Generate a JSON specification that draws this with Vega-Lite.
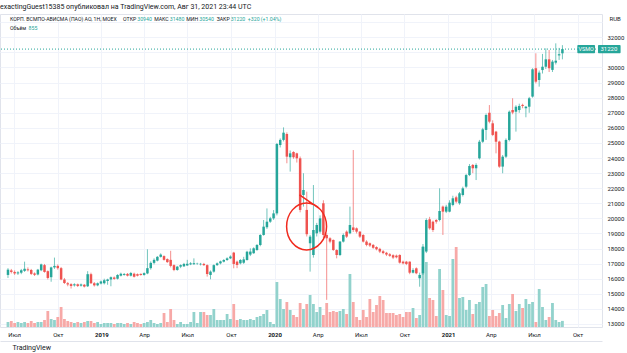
{
"$schema": "https://vega.github.io/schema/vega-lite/v6.json",
"width": 602, "height": 313,
"autosize": {"type": "none"},
"padding": {"left": 0, "top": 14, "right": 25, "bottom": 26},
"background": "#ffffff",
"title": {"text": "exactingGuest15385 опубликовал на TradingView.com, Авг 31, 2021 23:44 UTC", "anchor": "start", "frame": "group", "fontSize": 7, "fontWeight": "normal", "color": "#131722", "font": "Roboto", "offset": 4},
"config": {"view": {"stroke": "#e0e3eb", "strokeWidth": 1}, "font": "Roboto",
  "axis": {"gridColor": "#f0f3fa", "gridWidth": 1, "domain": false, "ticks": false, "labelColor": "#131722", "labelFont": "Roboto", "titleFont": "Roboto", "labelOverlap": false}},
"datasets": {"w": [
{"d":"2018-06-18","o":16250,"h":16700,"l":16050,"c":16600,"v":700},
{"d":"2018-06-25","o":16550,"h":16650,"l":16350,"c":16450,"v":840},
{"d":"2018-07-02","o":16450,"h":16550,"l":16250,"c":16350,"v":560},
{"d":"2018-07-09","o":16350,"h":16500,"l":16250,"c":16420,"v":700},
{"d":"2018-07-16","o":16400,"h":16650,"l":16300,"c":16560,"v":560},
{"d":"2018-07-23","o":16520,"h":17130,"l":16450,"c":16660,"v":700},
{"d":"2018-07-30","o":16620,"h":16750,"l":16480,"c":16560,"v":560},
{"d":"2018-08-06","o":16580,"h":16650,"l":16250,"c":16320,"v":840},
{"d":"2018-08-13","o":16350,"h":16420,"l":16180,"c":16260,"v":560},
{"d":"2018-08-20","o":16280,"h":16650,"l":16220,"c":16600,"v":700},
{"d":"2018-08-27","o":16560,"h":17000,"l":16500,"c":16950,"v":700},
{"d":"2018-09-03","o":16900,"h":16980,"l":16400,"c":16450,"v":980},
{"d":"2018-09-10","o":16500,"h":16550,"l":15950,"c":16050,"v":2240},
{"d":"2018-09-17","o":16100,"h":16800,"l":15800,"c":16750,"v":1120},
{"d":"2018-09-24","o":16750,"h":17400,"l":16650,"c":16850,"v":980},
{"d":"2018-10-01","o":16850,"h":16950,"l":16600,"c":16700,"v":1400},
{"d":"2018-10-08","o":16700,"h":16780,"l":15900,"c":15950,"v":2800},
{"d":"2018-10-15","o":15950,"h":16050,"l":15650,"c":15720,"v":1120},
{"d":"2018-10-22","o":15700,"h":15780,"l":15500,"c":15620,"v":840},
{"d":"2018-10-29","o":15640,"h":15700,"l":15350,"c":15520,"v":700},
{"d":"2018-11-05","o":15560,"h":15700,"l":15480,"c":15630,"v":560},
{"d":"2018-11-12","o":15630,"h":15680,"l":15450,"c":15520,"v":700},
{"d":"2018-11-19","o":15540,"h":15680,"l":15480,"c":15620,"v":560},
{"d":"2018-11-26","o":15600,"h":15650,"l":15420,"c":15480,"v":700},
{"d":"2018-12-03","o":15500,"h":16500,"l":15450,"c":16300,"v":840},
{"d":"2018-12-10","o":16300,"h":16400,"l":15650,"c":15700,"v":840},
{"d":"2018-12-17","o":15700,"h":15780,"l":15480,"c":15560,"v":560},
{"d":"2018-12-24","o":15560,"h":15750,"l":15500,"c":15700,"v":700},
{"d":"2018-12-31","o":15680,"h":15880,"l":15620,"c":15820,"v":420},
{"d":"2019-01-07","o":15700,"h":16000,"l":15620,"c":15900,"v":560},
{"d":"2019-01-14","o":15850,"h":16000,"l":15600,"c":15950,"v":560},
{"d":"2019-01-21","o":15950,"h":16150,"l":15500,"c":16100,"v":560},
{"d":"2019-01-28","o":16080,"h":16150,"l":15930,"c":15990,"v":420},
{"d":"2019-02-04","o":16000,"h":16300,"l":15950,"c":16250,"v":560},
{"d":"2019-02-11","o":16200,"h":16400,"l":16150,"c":16330,"v":560},
{"d":"2019-02-18","o":16250,"h":16380,"l":16200,"c":16310,"v":420},
{"d":"2019-02-25","o":16320,"h":16380,"l":16150,"c":16200,"v":560},
{"d":"2019-03-04","o":16200,"h":16450,"l":16150,"c":16380,"v":420},
{"d":"2019-03-11","o":16330,"h":16400,"l":16080,"c":16130,"v":700},
{"d":"2019-03-18","o":16300,"h":16350,"l":16150,"c":16200,"v":560},
{"d":"2019-03-25","o":16320,"h":16350,"l":16200,"c":16250,"v":420},
{"d":"2019-04-01","o":16250,"h":16420,"l":16200,"c":16370,"v":560},
{"d":"2019-04-08","o":16350,"h":17950,"l":16300,"c":16700,"v":700},
{"d":"2019-04-15","o":16700,"h":17150,"l":16600,"c":17050,"v":980},
{"d":"2019-04-22","o":17050,"h":17350,"l":16950,"c":17250,"v":560},
{"d":"2019-04-29","o":17200,"h":17500,"l":17150,"c":17450,"v":420},
{"d":"2019-05-06","o":17450,"h":17680,"l":17400,"c":17600,"v":560},
{"d":"2019-05-13","o":17500,"h":17550,"l":17200,"c":17250,"v":1960},
{"d":"2019-05-20","o":17300,"h":17350,"l":17050,"c":17100,"v":700},
{"d":"2019-05-27","o":17250,"h":17850,"l":16750,"c":16850,"v":2520},
{"d":"2019-06-03","o":16900,"h":16950,"l":16500,"c":16580,"v":980},
{"d":"2019-06-10","o":16580,"h":16850,"l":16530,"c":16800,"v":420},
{"d":"2019-06-17","o":16800,"h":16950,"l":16700,"c":16900,"v":700},
{"d":"2019-06-24","o":16820,"h":17050,"l":16780,"c":16980,"v":420},
{"d":"2019-07-01","o":16880,"h":17250,"l":16850,"c":16990,"v":420},
{"d":"2019-07-08","o":16950,"h":17100,"l":16900,"c":17020,"v":700},
{"d":"2019-07-15","o":16960,"h":17350,"l":16920,"c":17030,"v":2100},
{"d":"2019-07-22","o":16980,"h":17060,"l":16920,"c":17000,"v":560},
{"d":"2019-07-29","o":16950,"h":17050,"l":16880,"c":16990,"v":2100},
{"d":"2019-08-05","o":16980,"h":17050,"l":16850,"c":16900,"v":2100},
{"d":"2019-08-12","o":16900,"h":16950,"l":16140,"c":16310,"v":1680},
{"d":"2019-08-19","o":16250,"h":16550,"l":15960,"c":16470,"v":1680},
{"d":"2019-08-26","o":16470,"h":16950,"l":16400,"c":16900,"v":2520},
{"d":"2019-09-02","o":16900,"h":17080,"l":16850,"c":17020,"v":980},
{"d":"2019-09-09","o":17020,"h":17200,"l":16950,"c":17150,"v":980},
{"d":"2019-09-16","o":17130,"h":17300,"l":17080,"c":17240,"v":980},
{"d":"2019-09-23","o":17240,"h":17420,"l":17180,"c":17350,"v":1820},
{"d":"2019-09-30","o":17350,"h":17550,"l":17300,"c":17470,"v":1120},
{"d":"2019-10-07","o":17730,"h":17780,"l":16690,"c":16980,"v":3220},
{"d":"2019-10-14","o":17130,"h":17200,"l":16700,"c":16910,"v":980},
{"d":"2019-10-21","o":17020,"h":17300,"l":16950,"c":17240,"v":1120},
{"d":"2019-10-28","o":17060,"h":17450,"l":16980,"c":17280,"v":980},
{"d":"2019-11-04","o":17240,"h":17850,"l":17200,"c":17790,"v":980},
{"d":"2019-11-11","o":17600,"h":18015,"l":17500,"c":17800,"v":1120},
{"d":"2019-11-18","o":17690,"h":18080,"l":17650,"c":18015,"v":980},
{"d":"2019-11-25","o":17900,"h":18300,"l":17850,"c":18235,"v":1400},
{"d":"2019-12-02","o":18235,"h":18950,"l":18150,"c":18900,"v":1540},
{"d":"2019-12-09","o":18900,"h":19890,"l":18850,"c":19450,"v":1820},
{"d":"2019-12-16","o":19410,"h":20660,"l":19300,"c":19780,"v":2380},
{"d":"2019-12-23","o":19780,"h":20100,"l":19700,"c":20000,"v":700},
{"d":"2019-12-30","o":20000,"h":20550,"l":19900,"c":20330,"v":420},
{"d":"2020-01-06","o":20330,"h":25000,"l":20200,"c":24930,"v":6300},
{"d":"2020-01-13","o":24860,"h":25300,"l":24700,"c":25200,"v":3920},
{"d":"2020-01-20","o":25200,"h":26030,"l":25100,"c":25680,"v":2520},
{"d":"2020-01-27","o":25590,"h":25700,"l":23650,"c":24090,"v":3500},
{"d":"2020-02-03","o":24050,"h":24500,"l":23100,"c":24310,"v":2380},
{"d":"2020-02-10","o":24400,"h":24450,"l":23950,"c":24050,"v":1680},
{"d":"2020-02-17","o":24310,"h":24350,"l":23700,"c":23980,"v":1400},
{"d":"2020-02-24","o":23980,"h":24100,"l":20400,"c":20560,"v":3360},
{"d":"2020-03-02","o":21550,"h":22990,"l":20780,"c":21880,"v":2520},
{"d":"2020-03-09","o":20560,"h":21770,"l":18800,"c":18950,"v":3220},
{"d":"2020-03-16","o":18350,"h":18900,"l":16470,"c":18790,"v":4480},
{"d":"2020-03-23","o":17570,"h":22210,"l":17400,"c":19230,"v":3220},
{"d":"2020-03-30","o":19010,"h":19700,"l":18800,"c":19560,"v":2100},
{"d":"2020-04-06","o":19120,"h":20200,"l":19000,"c":20000,"v":2800},
{"d":"2020-04-13","o":21000,"h":21200,"l":18700,"c":18900,"v":1680},
{"d":"2020-04-20","o":18900,"h":19000,"l":14600,"c":18680,"v":3360},
{"d":"2020-04-27","o":18680,"h":18750,"l":18350,"c":18460,"v":2100},
{"d":"2020-05-04","o":18570,"h":18600,"l":17850,"c":17900,"v":2240},
{"d":"2020-05-11","o":17900,"h":17950,"l":17350,"c":17570,"v":2100},
{"d":"2020-05-18","o":17570,"h":18500,"l":17500,"c":18460,"v":2240},
{"d":"2020-05-25","o":18460,"h":19000,"l":18400,"c":18900,"v":2520},
{"d":"2020-06-01","o":19120,"h":19200,"l":18700,"c":18790,"v":1820},
{"d":"2020-06-08","o":19010,"h":20780,"l":18950,"c":19560,"v":7420},
{"d":"2020-06-15","o":19400,"h":24530,"l":19100,"c":19230,"v":3500},
{"d":"2020-06-22","o":19340,"h":19400,"l":19000,"c":19120,"v":1400},
{"d":"2020-06-29","o":19120,"h":19150,"l":18700,"c":18790,"v":980},
{"d":"2020-07-06","o":18900,"h":18950,"l":18400,"c":18460,"v":2380},
{"d":"2020-07-13","o":18460,"h":18550,"l":18150,"c":18240,"v":1400},
{"d":"2020-07-20","o":18350,"h":18400,"l":18100,"c":18200,"v":3920},
{"d":"2020-07-27","o":18240,"h":18300,"l":17980,"c":18050,"v":2100},
{"d":"2020-08-03","o":18100,"h":18150,"l":17880,"c":17950,"v":3080},
{"d":"2020-08-10","o":17980,"h":18050,"l":17700,"c":17800,"v":4340},
{"d":"2020-08-17","o":17820,"h":17900,"l":17620,"c":17700,"v":3780},
{"d":"2020-08-24","o":17720,"h":17780,"l":17500,"c":17600,"v":1960},
{"d":"2020-08-31","o":17620,"h":17700,"l":17450,"c":17520,"v":1960},
{"d":"2020-09-07","o":17560,"h":17620,"l":17300,"c":17400,"v":1960},
{"d":"2020-09-14","o":17530,"h":17600,"l":17350,"c":17420,"v":1680},
{"d":"2020-09-21","o":17570,"h":17620,"l":17000,"c":17065,"v":1820},
{"d":"2020-09-28","o":17130,"h":17200,"l":16950,"c":17020,"v":1400},
{"d":"2020-10-05","o":17130,"h":17180,"l":16900,"c":16980,"v":2100},
{"d":"2020-10-12","o":17130,"h":17150,"l":16300,"c":16400,"v":2100},
{"d":"2020-10-19","o":16400,"h":16700,"l":16350,"c":16580,"v":2660},
{"d":"2020-10-26","o":16690,"h":16750,"l":16300,"c":16360,"v":1260},
{"d":"2020-11-02","o":16030,"h":16400,"l":15470,"c":16250,"v":1680},
{"d":"2020-11-09","o":16360,"h":18300,"l":16250,"c":18130,"v":11200},
{"d":"2020-11-16","o":17800,"h":20000,"l":17700,"c":19890,"v":9100},
{"d":"2020-11-23","o":19940,"h":20100,"l":19250,"c":19340,"v":4060},
{"d":"2020-11-30","o":19780,"h":19850,"l":19100,"c":19230,"v":3780},
{"d":"2020-12-07","o":19890,"h":19950,"l":19650,"c":19780,"v":1540},
{"d":"2020-12-14","o":19890,"h":21990,"l":19800,"c":20490,"v":8120},
{"d":"2020-12-21","o":20780,"h":20850,"l":18900,"c":20445,"v":5180},
{"d":"2020-12-28","o":20445,"h":20900,"l":20350,"c":20776,"v":1680},
{"d":"2021-01-04","o":20445,"h":21200,"l":20400,"c":21040,"v":1540},
{"d":"2021-01-11","o":20890,"h":21500,"l":20800,"c":21330,"v":9520},
{"d":"2021-01-18","o":21395,"h":21500,"l":21000,"c":21110,"v":11200},
{"d":"2021-01-25","o":21000,"h":21750,"l":20900,"c":21660,"v":4060},
{"d":"2021-02-01","o":21550,"h":22100,"l":21450,"c":21990,"v":4200},
{"d":"2021-02-08","o":22100,"h":22950,"l":22000,"c":22870,"v":2380},
{"d":"2021-02-15","o":22870,"h":23600,"l":22800,"c":23470,"v":3780},
{"d":"2021-02-22","o":23540,"h":23600,"l":23000,"c":23320,"v":1820},
{"d":"2021-03-01","o":23320,"h":23650,"l":22540,"c":23540,"v":3220},
{"d":"2021-03-08","o":23980,"h":25200,"l":23900,"c":25080,"v":3500},
{"d":"2021-03-15","o":25080,"h":26000,"l":25000,"c":25900,"v":5600},
{"d":"2021-03-22","o":25860,"h":26950,"l":25200,"c":26850,"v":6020},
{"d":"2021-03-29","o":27000,"h":27510,"l":26300,"c":26410,"v":1540},
{"d":"2021-04-05","o":26300,"h":26500,"l":25450,"c":25530,"v":2380},
{"d":"2021-04-12","o":25750,"h":25800,"l":24310,"c":25080,"v":1540},
{"d":"2021-04-19","o":25090,"h":25150,"l":23350,"c":23430,"v":1960},
{"d":"2021-04-26","o":23430,"h":24200,"l":22990,"c":24090,"v":3080},
{"d":"2021-05-03","o":24090,"h":25300,"l":24000,"c":25200,"v":1260},
{"d":"2021-05-10","o":25200,"h":27150,"l":25100,"c":27070,"v":3220},
{"d":"2021-05-17","o":27180,"h":27960,"l":26900,"c":27010,"v":4620},
{"d":"2021-05-24","o":27070,"h":27500,"l":25750,"c":27400,"v":2240},
{"d":"2021-05-31","o":27180,"h":27600,"l":27000,"c":27450,"v":3220},
{"d":"2021-06-07","o":27520,"h":27600,"l":27300,"c":27450,"v":2660},
{"d":"2021-06-14","o":27300,"h":27450,"l":26700,"c":27400,"v":3920},
{"d":"2021-06-21","o":27400,"h":28050,"l":27000,"c":27960,"v":3220},
{"d":"2021-06-28","o":28070,"h":29950,"l":28000,"c":29880,"v":3500},
{"d":"2021-07-05","o":29950,"h":30940,"l":28950,"c":29060,"v":700},
{"d":"2021-07-12","o":29170,"h":29800,"l":28730,"c":29660,"v":5320},
{"d":"2021-07-19","o":29830,"h":30900,"l":29600,"c":30050,"v":2800},
{"d":"2021-07-26","o":30050,"h":31270,"l":29900,"c":30540,"v":980},
{"d":"2021-08-02","o":30540,"h":31160,"l":29700,"c":29950,"v":1400},
{"d":"2021-08-09","o":29840,"h":30500,"l":29700,"c":30390,"v":3360},
{"d":"2021-08-16","o":30320,"h":31600,"l":30200,"c":30450,"v":980},
{"d":"2021-08-23","o":30800,"h":31300,"l":30500,"c":30880,"v":700},
{"d":"2021-08-30","o":30940,"h":31480,"l":30540,"c":31220,"v":855}
]},
"resolve": {"scale": {"y": "independent"}},
"layer": [
 {"data": {"name": "w"},
  "mark": {"type": "bar", "size": 2.8},
  "encoding": {
   "x": {"field": "d", "type": "temporal", "title": "TradingView",
     "scale": {"domain": [{"year": 2018, "month": 6, "date": 11, "hours": 17}, {"year": 2021, "month": 11, "date": 10, "hours": 22}]},
     "axis": {"values": [{"year":2018,"month":7,"date":1},{"year":2018,"month":10,"date":1},{"year":2019,"month":1,"date":1},{"year":2019,"month":4,"date":1},{"year":2019,"month":7,"date":1},{"year":2019,"month":10,"date":1},{"year":2020,"month":1,"date":1},{"year":2020,"month":4,"date":1},{"year":2020,"month":7,"date":1},{"year":2020,"month":10,"date":1},{"year":2021,"month":1,"date":1},{"year":2021,"month":4,"date":1},{"year":2021,"month":7,"date":1},{"year":2021,"month":10,"date":1}],
       "tickCount": 40,
       "labelExpr": "month(datum.value) == 0 ? timeFormat(datum.value, '%Y') : (month(datum.value) == 3 ? 'Апр' : (month(datum.value) == 6 ? 'Июл' : 'Окт'))",
       "labelFontSize": 6, "labelPadding": -10, "labelOverlap": false, "labelFontWeight": {"condition": {"test": "month(datum.value) == 0", "value": "bold"}, "value": "normal"},
       "offset": 14, "domain": true, "domainColor": "#e0e3eb", "domainWidth": 1,
       "grid": true, "titleAnchor": "start", "titleAlign": "left", "titleBaseline": "middle", "titleX": 12, "titleY": 6, "titleFontSize": 7, "titleFontWeight": "normal", "titleColor": "#131722"}},
   "y": {"field": "v", "type": "quantitative", "scale": {"domain": [0, 43820], "nice": false}, "axis": null},
   "color": {"condition": {"test": "datum.c >= datum.o", "value": "#92d2cc"}, "value": "#f7a9a7"}
  }},
 {"layer": [
  {"data": {"name": "w"},
   "mark": {"type": "rule", "strokeWidth": 1, "opacity": 0.65},
   "encoding": {
    "x": {"field": "d", "type": "temporal", "title": "TradingView"},
    "y": {"field": "l", "type": "quantitative", "title": "RUB",
      "scale": {"domain": [12800, 33545], "nice": false, "zero": false},
      "axis": {"orient": "right", "values": [13000,14000,15000,16000,17000,18000,19000,20000,21000,22000,23000,24000,25000,26000,27000,28000,29000,30000,31000,32000,33000],
        "tickCount": 40, "format": "d", "labelExpr": "(datum.value == 33000 || datum.value == 31000) ? '' : datum.label", "labelFontSize": 6, "labelPadding": 5, "labelOverlap": false, "grid": true,
        "titleAngle": 0, "titleAlign": "left", "titleBaseline": "middle", "titleX": 7, "titleY": 4, "titleFontSize": 6, "titleFontWeight": "normal", "titleColor": "#131722"}},
    "y2": {"field": "h"},
    "color": {"condition": {"test": "datum.c >= datum.o", "value": "#26a69a"}, "value": "#ef5350"}
   }},
  {"data": {"name": "w"},
   "mark": {"type": "bar", "size": 2.5},
   "encoding": {
    "x": {"field": "d", "type": "temporal", "title": "TradingView"},
    "y": {"field": "o", "type": "quantitative", "title": "RUB",
      "axis": {"orient": "right", "values": [13000,14000,15000,16000,17000,18000,19000,20000,21000,22000,23000,24000,25000,26000,27000,28000,29000,30000,31000,32000,33000],
        "tickCount": 40, "format": "d", "labelExpr": "(datum.value == 33000 || datum.value == 31000) ? '' : datum.label", "labelFontSize": 6, "labelPadding": 5, "labelOverlap": false, "grid": true,
        "titleAngle": 0, "titleAlign": "left", "titleBaseline": "middle", "titleX": 7, "titleY": 4, "titleFontSize": 6, "titleFontWeight": "normal", "titleColor": "#131722"}},
    "y2": {"field": "c"},
    "color": {"condition": {"test": "datum.c >= datum.o", "value": "#26a69a"}, "value": "#ef5350"}
   }},
  {"data": {"values": [{}]},
   "mark": {"type": "rule", "color": "#26a69a", "strokeDash": [1, 2], "strokeWidth": 1},
   "encoding": {"y": {"datum": 31220}}},
  {"data": {"values": [{}]},
   "mark": {"type": "rect", "color": "#26a69a", "cornerRadius": 1},
   "encoding": {"x": {"datum": {"year": 2021, "month": 9, "date": 30, "hours": 10}}, "x2": {"datum": {"year": 2021, "month": 11, "date": 6, "hours": 19}},
     "y": {"datum": 30950}, "y2": {"datum": 31490}}},
  {"data": {"values": [{}]},
   "mark": {"type": "rect", "color": "#26a69a", "cornerRadius": 1},
   "encoding": {"x": {"datum": {"year": 2021, "month": 11, "date": 13}}, "x2": {"datum": {"year": 2021, "month": 12, "date": 30, "hours": 16}},
     "y": {"datum": 30950}, "y2": {"datum": 31490}}},
  {"data": {"values": [{}]},
   "mark": {"type": "text", "color": "#ffffff", "fontSize": 5.5, "align": "center", "baseline": "middle"},
   "encoding": {"x": {"datum": {"year": 2021, "month": 10, "date": 19}}, "y": {"datum": 31220}, "text": {"value": "VSMO"}}},
  {"data": {"values": [{}]},
   "mark": {"type": "text", "color": "#ffffff", "fontSize": 6, "align": "center", "baseline": "middle"},
   "encoding": {"x": {"datum": {"year": 2021, "month": 12, "date": 6}}, "y": {"datum": 31220}, "text": {"value": "31220"}}},
  {"data": {"values": [{}]},
   "mark": {"type": "point", "shape": "M -0.3 -1.35 L 0.55 -0.76 M 0.85 0 A 0.85 1 0 1 1 -0.85 0 A 0.85 1 0 1 1 0.85 0", "filled": false, "stroke": "#f02a1e", "strokeWidth": 1.5, "size": 2209, "opacity": 1},
   "encoding": {"x": {"datum": {"year": 2020, "month": 3, "date": 8, "hours": 14}}, "y": {"datum": 19462}}},
  {"data": {"values": [{}]},
   "mark": {"type": "text", "color": "#131722", "fontSize": 5.2, "align": "left", "baseline": "middle"},
   "encoding": {"x": {"datum": {"year": 2018, "month": 6, "date": 22}}, "y": {"datum": 33193}, "text": {"value": "КОРП. ВСМПО-АВИСМА (ПАО) АО, 1Н, MOEX"}}},
  {"data": {"values": [{}]},
   "mark": {"type": "text", "color": "#131722", "fontSize": 5.2, "align": "right", "baseline": "middle"},
   "encoding": {"x": {"datum": {"year": 2019, "month": 3, "date": 15, "hours": 12}}, "y": {"datum": 33193}, "text": {"value": "ОТКР"}}},
  {"data": {"values": [{}]},
   "mark": {"type": "text", "color": "#26a69a", "fontSize": 5.2, "align": "left", "baseline": "middle"},
   "encoding": {"x": {"datum": {"year": 2019, "month": 3, "date": 17, "hours": 14}}, "y": {"datum": 33193}, "text": {"value": "30940"}}},
  {"data": {"values": [{}]},
   "mark": {"type": "text", "color": "#131722", "fontSize": 5.2, "align": "right", "baseline": "middle"},
   "encoding": {"x": {"datum": {"year": 2019, "month": 5, "date": 22, "hours": 22}}, "y": {"datum": 33193}, "text": {"value": "МАКС"}}},
  {"data": {"values": [{}]},
   "mark": {"type": "text", "color": "#26a69a", "fontSize": 5.2, "align": "left", "baseline": "middle"},
   "encoding": {"x": {"datum": {"year": 2019, "month": 5, "date": 25}}, "y": {"datum": 33193}, "text": {"value": "31480"}}},
  {"data": {"values": [{}]},
   "mark": {"type": "text", "color": "#131722", "fontSize": 5.2, "align": "right", "baseline": "middle"},
   "encoding": {"x": {"datum": {"year": 2019, "month": 7, "date": 24, "hours": 2}}, "y": {"datum": 33193}, "text": {"value": "МИН"}}},
  {"data": {"values": [{}]},
   "mark": {"type": "text", "color": "#26a69a", "fontSize": 5.2, "align": "left", "baseline": "middle"},
   "encoding": {"x": {"datum": {"year": 2019, "month": 7, "date": 26, "hours": 5}}, "y": {"datum": 33193}, "text": {"value": "30540"}}},
  {"data": {"values": [{}]},
   "mark": {"type": "text", "color": "#131722", "fontSize": 5.2, "align": "right", "baseline": "middle"},
   "encoding": {"x": {"datum": {"year": 2019, "month": 9, "date": 28, "hours": 12}}, "y": {"datum": 33193}, "text": {"value": "ЗАКР"}}},
  {"data": {"values": [{}]},
   "mark": {"type": "text", "color": "#26a69a", "fontSize": 5.2, "align": "left", "baseline": "middle"},
   "encoding": {"x": {"datum": {"year": 2019, "month": 9, "date": 30, "hours": 14}}, "y": {"datum": 33193}, "text": {"value": "31220"}}},
  {"data": {"values": [{}]},
   "mark": {"type": "text", "color": "#26a69a", "fontSize": 5.2, "align": "left", "baseline": "middle"},
   "encoding": {"x": {"datum": {"year": 2019, "month": 11, "date": 5, "hours": 19}}, "y": {"datum": 33193}, "text": {"value": "+320 (+1.04%)"}}},
  {"data": {"values": [{}]},
   "mark": {"type": "text", "color": "#131722", "fontSize": 5.2, "align": "left", "baseline": "middle"},
   "encoding": {"x": {"datum": {"year": 2018, "month": 6, "date": 22}}, "y": {"datum": 32616}, "text": {"value": "Объём"}}},
  {"data": {"values": [{}]},
   "mark": {"type": "text", "color": "#26a69a", "fontSize": 5.2, "align": "left", "baseline": "middle"},
   "encoding": {"x": {"datum": {"year": 2018, "month": 7, "date": 31, "hours": 12}}, "y": {"datum": 32616}, "text": {"value": "855"}}}
 ]}
]
}
